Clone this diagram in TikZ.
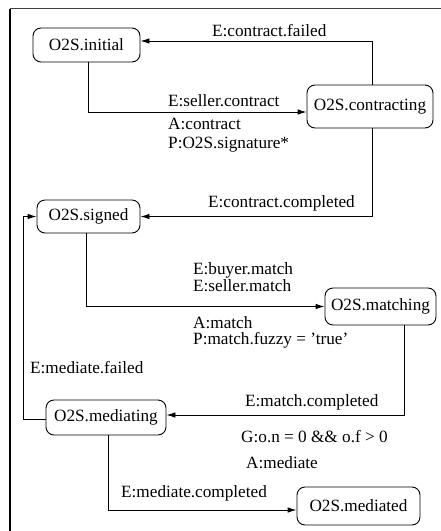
\documentclass[tikz,border=0pt]{standalone}
\usepackage{fontspec}
\setmainfont{Liberation Serif}
\usetikzlibrary{arrows.meta}
\begin{document}
\begin{tikzpicture}[x=1pt,y=-1pt,
  font=\fontsize{17.2}{20}\selectfont,
  state/.style={draw,rounded corners=8pt,line width=0.9pt,inner sep=0pt},
  arr/.style={line width=0.9pt,-{Latex[length=9pt,width=5.5pt]}},
  lbl/.style={anchor=base west,inner sep=0pt}]
\useasboundingbox (0,0) rectangle (441,531);
\draw[line width=1.4pt,black!75] (10,8.5) -- (441,8.5);
\draw[line width=1.4pt] (10,8.5) -- (10,531);
\node[state,minimum width=107pt,minimum height=34pt] (initial) at (86.5,45) {O2S.initial};
\node[state,minimum width=126pt,minimum height=43pt] (contracting) at (370,106.5) {O2S.contracting};
\node[state,minimum width=103pt,minimum height=33pt] (signed) at (88.5,216.5) {O2S.signed};
\node[state,minimum width=111pt,minimum height=37pt] (matching) at (380.5,306.5) {O2S.matching};
\node[state,minimum width=120pt,minimum height=35pt] (mediating) at (106,417.5) {O2S.mediating};
\node[state,minimum width=123pt,minimum height=38pt] (mediated) at (358.5,506) {O2S.mediated};
\draw[arr] ([xshift=1.5pt]initial.south) |- ([yshift=-5.5pt]contracting.west);
\draw[arr] ([xshift=2pt]contracting.north) |- ([yshift=4pt]initial.east);
\draw[arr] ([xshift=2pt]contracting.south) |- (signed.east);
\draw[arr] ([xshift=-2.5pt]signed.south) |- (matching.west);
\draw[arr] ([xshift=23.5pt]matching.south) |- ([yshift=2.5pt]mediating.east);
\coordinate (fb) at (23,419);
\draw[arr] ([yshift=-1.5pt]mediating.west) -- (fb) |- (signed.west);
\draw[arr] ([xshift=2pt]mediating.south) |- ([yshift=-4pt]mediated.west);
\node[lbl] (l1) at (212,36) {E:contract.failed};
\node[lbl] (l2) at (168,106) {E:seller.contract};
\node[lbl] (l3) at (168,129) {A:contract};
\node[lbl] (l4) at (168,148) {P:O2S.signature*};
\node[lbl] (l5) at (208,207) {E:contract.completed};
\node[lbl,align=left,font=\fontsize{17.2}{15}\selectfont] (l6) at (193,291) {E:buyer.match\\E:seller.match};
\node[lbl] (l8) at (193,328) {A:match};
\node[lbl] (l9) at (193,344) {P:match.fuzzy = 'true'};
\node[lbl] (l10) at (30,373) {E:mediate.failed};
\node[lbl] (l11) at (245,406) {E:match.completed};
\node[lbl] (l12) at (241,442) {G:o.n = 0 \&\& o.f > 0};
\node[lbl] (l13) at (246,468) {A:mediate};
\node[lbl] (l14) at (121,497) {E:mediate.completed};
\end{tikzpicture}
\end{document}
